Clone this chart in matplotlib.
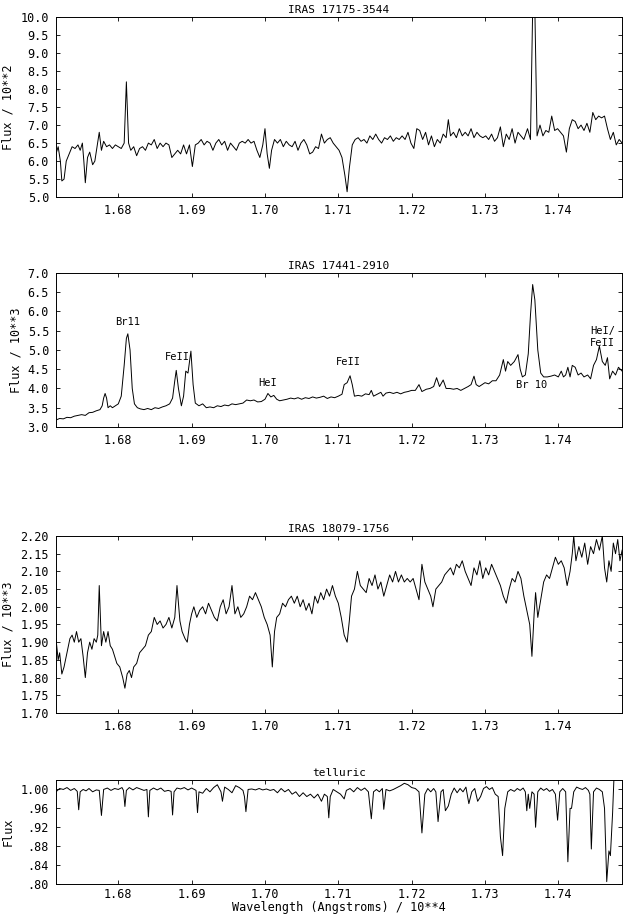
import matplotlib
matplotlib.use("Agg")
import matplotlib.pyplot as plt
from matplotlib.ticker import MultipleLocator, FuncFormatter

plt.rcParams['font.family'] = ['DejaVu Sans Mono', 'Liberation Mono']
plt.rcParams['font.size'] = 8.5

xticks = [1.68, 1.69, 1.70, 1.71, 1.72, 1.73, 1.74]
xlim = (1.6715, 1.7487)

titles = ["IRAS 17175-3544", "IRAS 17441-2910", "IRAS 18079-1756", "telluric"]
ylabels = ["Flux / 10**2", "Flux / 10**3", "Flux / 10**3", "Flux"]

spec1 = [(1.6715,6.2),(1.6718,6.4),(1.6721,6.0),(1.6723,5.45),(1.6726,5.5),(1.6729,6.0),(1.6733,6.2),(1.6737,6.4),
(1.6741,6.35),(1.6745,6.45),(1.6748,6.3),(1.6751,6.5),(1.6753,6.0),(1.6755,5.4),(1.6758,6.1),(1.6761,6.25),(1.6765,5.9),
(1.6768,6.0),(1.6771,6.4),(1.6774,6.8),(1.6777,6.3),(1.6780,6.55),(1.6784,6.4),(1.6788,6.45),(1.6792,6.35),(1.6796,6.45),
(1.6800,6.4),(1.6804,6.35),(1.6808,6.5),(1.6811,8.2),(1.6814,6.5),(1.6817,6.3),(1.6821,6.4),(1.6825,6.15),(1.6829,6.35),
(1.6833,6.4),(1.6837,6.3),(1.6841,6.5),(1.6845,6.45),(1.6849,6.6),(1.6853,6.35),(1.6857,6.5),(1.6861,6.4),(1.6865,6.5),
(1.6869,6.45),(1.6873,6.1),(1.6877,6.2),(1.6881,6.3),(1.6885,6.2),(1.6889,6.45),(1.6893,6.2),(1.6897,6.45),(1.6901,5.85),
(1.6905,6.45),(1.6909,6.5),(1.6913,6.6),(1.6917,6.45),(1.6921,6.55),(1.6925,6.5),(1.6929,6.3),(1.6933,6.5),(1.6937,6.6),
(1.6941,6.45),(1.6945,6.55),(1.6949,6.3),(1.6953,6.5),(1.6957,6.4),(1.6961,6.3),(1.6965,6.5),(1.6969,6.55),(1.6973,6.5),
(1.6977,6.6),(1.6981,6.5),(1.6985,6.55),(1.6989,6.3),(1.6993,6.1),(1.6997,6.45),(1.7000,6.9),(1.7003,6.2),(1.7006,5.8),
(1.7009,6.3),(1.7013,6.6),(1.7017,6.5),(1.7021,6.6),(1.7025,6.4),(1.7029,6.55),(1.7033,6.45),(1.7037,6.4),(1.7041,6.55),
(1.7045,6.3),(1.7049,6.5),(1.7053,6.6),(1.7057,6.45),(1.7061,6.2),(1.7065,6.25),(1.7069,6.4),(1.7073,6.35),(1.7077,6.75),
(1.7081,6.5),(1.7085,6.6),(1.7089,6.65),(1.7093,6.5),(1.7097,6.4),(1.7101,6.3),(1.7105,6.1),(1.7109,5.6),(1.7112,5.15),
(1.7115,5.8),(1.7119,6.45),(1.7123,6.6),(1.7127,6.65),(1.7131,6.55),(1.7135,6.6),(1.7139,6.5),(1.7143,6.7),(1.7147,6.6),
(1.7151,6.75),(1.7155,6.6),(1.7159,6.5),(1.7163,6.65),(1.7167,6.6),(1.7171,6.7),(1.7175,6.55),(1.7179,6.65),(1.7183,6.6),
(1.7187,6.7),(1.7191,6.6),(1.7195,6.8),(1.7199,6.5),(1.7203,6.35),(1.7207,6.9),(1.7211,6.85),(1.7215,6.6),(1.7219,6.8),
(1.7223,6.45),(1.7227,6.7),(1.7231,6.4),(1.7235,6.6),(1.7239,6.5),(1.7243,6.75),(1.7247,6.65),(1.7250,7.15),(1.7253,6.7),
(1.7257,6.8),(1.7261,6.65),(1.7265,6.9),(1.7269,6.7),(1.7273,6.8),(1.7277,6.7),(1.7281,6.9),(1.7285,6.65),(1.7289,6.8),
(1.7293,6.7),(1.7297,6.65),(1.7301,6.7),(1.7305,6.6),(1.7309,6.75),(1.7313,6.55),(1.7317,6.65),(1.7321,6.95),(1.7325,6.4),
(1.7329,6.75),(1.7333,6.6),(1.7337,6.9),(1.7341,6.5),(1.7345,6.8),(1.7349,6.7),(1.7353,6.6),(1.7358,6.9),(1.7362,6.6),
(1.7365,10.2),(1.7368,10.2),(1.7371,6.7),(1.7375,7.0),(1.7379,6.7),(1.7383,6.85),(1.7387,6.8),(1.7391,7.25),(1.7395,6.85),
(1.7399,6.9),(1.7403,6.8),(1.7407,6.7),(1.7411,6.25),(1.7415,6.9),(1.7419,7.15),(1.7423,7.1),(1.7427,6.9),(1.7431,7.0),
(1.7435,6.85),(1.7439,7.05),(1.7443,6.8),(1.7447,7.35),(1.7451,7.15),(1.7455,7.25),(1.7459,7.2),(1.7463,7.25),(1.7467,6.9),
(1.7471,6.6),(1.7475,6.8),(1.7479,6.45),(1.7483,6.6),(1.7487,6.5)]

spec2 = [(1.6715,3.18),(1.6720,3.22),(1.6725,3.21),(1.6730,3.25),(1.6735,3.24),(1.6740,3.28),(1.6745,3.3),(1.6750,3.32),
(1.6755,3.3),(1.6760,3.37),(1.6765,3.38),(1.6770,3.42),(1.6775,3.45),(1.6778,3.55),(1.6780,3.75),(1.6782,3.87),(1.6784,3.75),
(1.6786,3.5),(1.6789,3.55),(1.6792,3.5),(1.6796,3.55),(1.6800,3.6),(1.6804,3.8),(1.6808,4.6),(1.6811,5.3),(1.6813,5.42),
(1.6816,5.0),(1.6819,4.0),(1.6822,3.6),(1.6826,3.5),(1.6830,3.47),(1.6835,3.45),(1.6840,3.48),(1.6845,3.45),(1.6850,3.5),
(1.6855,3.48),(1.6860,3.52),(1.6865,3.55),(1.6870,3.6),(1.6874,3.75),(1.6877,4.2),(1.6879,4.47),(1.6882,4.0),(1.6886,3.55),
(1.6889,3.8),(1.6892,4.45),(1.6895,4.4),(1.6899,4.97),(1.6902,4.1),(1.6905,3.62),(1.6910,3.55),(1.6915,3.6),(1.6920,3.5),
(1.6925,3.52),(1.6930,3.5),(1.6935,3.55),(1.6940,3.53),(1.6945,3.57),(1.6950,3.55),(1.6955,3.6),(1.6960,3.58),(1.6965,3.6),
(1.6970,3.62),(1.6975,3.7),(1.6980,3.68),(1.6985,3.7),(1.6990,3.65),(1.6995,3.66),(1.7000,3.72),(1.7004,3.87),(1.7008,3.78),
(1.7012,3.82),(1.7016,3.72),(1.7020,3.68),(1.7025,3.7),(1.7030,3.72),(1.7035,3.75),(1.7040,3.73),(1.7045,3.76),(1.7050,3.72),
(1.7055,3.76),(1.7060,3.74),(1.7065,3.78),(1.7070,3.75),(1.7075,3.77),(1.7080,3.8),(1.7085,3.74),(1.7090,3.78),(1.7095,3.76),
(1.7100,3.8),(1.7105,3.85),(1.7108,4.1),(1.7112,4.15),(1.7116,4.33),(1.7119,4.1),(1.7122,3.8),(1.7127,3.82),(1.7132,3.8),
(1.7137,3.86),(1.7142,3.84),(1.7145,3.95),(1.7148,3.8),(1.7153,3.85),(1.7158,3.9),(1.7161,3.8),(1.7165,3.88),(1.7170,3.9),
(1.7175,3.87),(1.7180,3.9),(1.7185,3.86),(1.7190,3.9),(1.7195,3.92),(1.7200,3.95),(1.7205,3.95),(1.7210,4.1),(1.7214,3.92),
(1.7220,3.98),(1.7225,4.0),(1.7230,4.05),(1.7234,4.28),(1.7238,4.05),(1.7243,4.22),(1.7247,4.0),(1.7252,4.0),(1.7257,3.98),
(1.7262,4.0),(1.7267,3.95),(1.7272,4.0),(1.7277,4.05),(1.7281,4.1),(1.7285,4.32),(1.7288,4.1),(1.7292,4.05),(1.7296,4.1),
(1.7300,4.15),(1.7305,4.12),(1.7310,4.2),(1.7315,4.2),(1.7320,4.35),(1.7325,4.75),(1.7328,4.45),(1.7331,4.7),(1.7335,4.6),
(1.7340,4.7),(1.7345,4.88),(1.7348,4.5),(1.7351,4.3),(1.7355,4.35),(1.7359,4.9),(1.7362,5.9),(1.7365,6.7),(1.7368,6.3),
(1.7372,5.0),(1.7376,4.4),(1.7380,4.3),(1.7385,4.3),(1.7390,4.32),(1.7395,4.35),(1.7400,4.3),(1.7404,4.45),(1.7407,4.3),
(1.7410,4.35),(1.7413,4.55),(1.7416,4.3),(1.7419,4.6),(1.7423,4.55),(1.7427,4.35),(1.7431,4.4),(1.7435,4.3),(1.7440,4.35),
(1.7444,4.25),(1.7448,4.6),(1.7452,4.75),(1.7456,5.1),(1.7460,4.7),(1.7464,4.6),(1.7467,4.8),(1.7470,4.25),(1.7474,4.45),
(1.7478,4.35),(1.7482,4.55),(1.7487,4.45)]

spec3 = [(1.6715,1.91),(1.6718,1.85),(1.6720,1.87),(1.6723,1.81),(1.6726,1.83),(1.6730,1.87),(1.6734,1.91),(1.6737,1.92),
(1.6740,1.90),(1.6743,1.93),(1.6746,1.90),(1.6749,1.91),(1.6752,1.86),(1.6755,1.80),(1.6758,1.87),(1.6761,1.90),(1.6764,1.88),
(1.6767,1.91),(1.6770,1.90),(1.6772,1.92),(1.6774,2.06),(1.6777,1.89),(1.6780,1.93),(1.6783,1.90),(1.6786,1.93),(1.6789,1.89),
(1.6792,1.88),(1.6795,1.86),(1.6798,1.84),(1.6802,1.83),(1.6806,1.80),(1.6809,1.77),(1.6812,1.81),(1.6815,1.82),(1.6818,1.80),
(1.6821,1.83),(1.6825,1.84),(1.6829,1.87),(1.6833,1.88),(1.6837,1.89),(1.6841,1.92),(1.6845,1.93),(1.6849,1.97),(1.6853,1.95),
(1.6857,1.96),(1.6861,1.94),(1.6865,1.95),(1.6869,1.97),(1.6873,1.94),(1.6877,1.97),(1.6880,2.06),(1.6884,1.96),(1.6887,1.93),
(1.6891,1.91),(1.6894,1.90),(1.6897,1.95),(1.6900,1.98),(1.6903,2.00),(1.6907,1.97),(1.6911,1.99),(1.6915,2.00),(1.6919,1.98),
(1.6923,2.01),(1.6927,1.99),(1.6931,1.97),(1.6935,1.96),(1.6939,2.00),(1.6943,2.02),(1.6947,1.98),(1.6951,2.00),(1.6955,2.06),
(1.6959,1.98),(1.6963,2.00),(1.6967,1.97),(1.6971,1.98),(1.6975,2.00),(1.6979,2.03),(1.6983,2.02),(1.6987,2.04),(1.6991,2.02),
(1.6995,2.00),(1.6999,1.97),(1.7003,1.95),(1.7007,1.92),(1.7010,1.83),(1.7013,1.93),(1.7016,1.97),(1.7020,1.98),(1.7024,2.01),
(1.7028,2.00),(1.7032,2.02),(1.7036,2.03),(1.7040,2.01),(1.7044,2.03),(1.7048,2.00),(1.7052,2.02),(1.7056,1.99),(1.7060,2.01),
(1.7064,1.98),(1.7068,2.03),(1.7072,2.01),(1.7076,2.04),(1.7080,2.02),(1.7084,2.05),(1.7088,2.03),(1.7092,2.06),(1.7096,2.03),
(1.7100,2.01),(1.7104,1.97),(1.7108,1.92),(1.7112,1.90),(1.7115,1.96),(1.7118,2.03),(1.7122,2.05),(1.7126,2.10),(1.7130,2.06),
(1.7134,2.05),(1.7138,2.04),(1.7142,2.08),(1.7146,2.06),(1.7150,2.09),(1.7154,2.05),(1.7158,2.07),(1.7162,2.03),(1.7166,2.06),
(1.7170,2.09),(1.7174,2.07),(1.7178,2.10),(1.7182,2.07),(1.7186,2.09),(1.7190,2.07),(1.7194,2.08),(1.7198,2.07),(1.7202,2.08),
(1.7206,2.05),(1.7210,2.02),(1.7214,2.12),(1.7218,2.07),(1.7222,2.05),(1.7226,2.03),(1.7229,2.00),(1.7233,2.05),(1.7237,2.06),
(1.7241,2.07),(1.7245,2.09),(1.7249,2.10),(1.7253,2.11),(1.7257,2.09),(1.7261,2.12),(1.7265,2.11),(1.7269,2.13),(1.7273,2.10),
(1.7277,2.08),(1.7281,2.06),(1.7285,2.11),(1.7289,2.09),(1.7293,2.13),(1.7297,2.08),(1.7301,2.11),(1.7305,2.09),(1.7309,2.12),
(1.7313,2.10),(1.7317,2.08),(1.7321,2.06),(1.7325,2.03),(1.7329,2.01),(1.7333,2.05),(1.7337,2.08),(1.7341,2.07),(1.7345,2.10),
(1.7349,2.08),(1.7353,2.03),(1.7357,1.99),(1.7361,1.95),(1.7364,1.86),(1.7367,1.98),(1.7369,2.04),(1.7372,1.97),(1.7376,2.02),
(1.7380,2.07),(1.7384,2.09),(1.7388,2.08),(1.7392,2.11),(1.7396,2.14),(1.7400,2.12),(1.7404,2.13),(1.7408,2.11),(1.7412,2.06),
(1.7416,2.10),(1.7419,2.15),(1.7421,2.20),(1.7424,2.13),(1.7428,2.17),(1.7432,2.14),(1.7436,2.18),(1.7440,2.12),(1.7444,2.17),
(1.7448,2.15),(1.7452,2.19),(1.7456,2.16),(1.7460,2.20),(1.7463,2.11),(1.7466,2.07),(1.7469,2.13),(1.7472,2.10),(1.7475,2.18),
(1.7478,2.15),(1.7481,2.19),(1.7484,2.13),(1.7487,2.16)]

spec4 = [(1.6715,0.995),(1.6720,1.002),(1.6725,1.000),(1.6730,1.004),(1.6735,0.998),(1.6740,1.002),(1.6744,0.996),(1.6746,0.957),
(1.6748,0.995),(1.6752,1.000),(1.6756,0.997),(1.6760,1.002),(1.6765,0.995),(1.6770,0.999),(1.6774,0.998),(1.6777,0.945),
(1.6780,1.000),(1.6785,1.003),(1.6790,0.998),(1.6795,1.002),(1.6800,1.000),(1.6805,1.004),(1.6807,0.998),(1.6809,0.964),
(1.6811,0.998),(1.6815,1.004),(1.6820,0.999),(1.6825,1.004),(1.6830,1.001),(1.6835,0.998),(1.6839,1.000),(1.6841,0.942),
(1.6843,0.998),(1.6848,1.003),(1.6853,0.999),(1.6858,1.003),(1.6863,0.996),(1.6868,0.998),(1.6872,0.996),(1.6874,0.946),
(1.6876,0.995),(1.6880,1.003),(1.6885,1.001),(1.6890,1.004),(1.6895,0.999),(1.6900,1.003),(1.6906,0.998),(1.6908,0.951),
(1.6910,0.995),(1.6915,0.992),(1.6920,1.002),(1.6925,0.995),(1.6930,1.004),(1.6935,1.010),(1.6940,0.995),(1.6942,0.975),
(1.6945,1.005),(1.6950,1.000),(1.6955,0.993),(1.6960,1.008),(1.6965,1.004),(1.6970,0.998),(1.6972,0.985),(1.6974,0.953),
(1.6977,1.000),(1.6982,1.001),(1.6987,0.999),(1.6992,1.002),(1.6997,0.999),(1.7002,1.001),(1.7007,0.998),(1.7012,1.000),
(1.7017,0.993),(1.7022,1.002),(1.7027,0.995),(1.7032,1.000),(1.7037,0.990),(1.7042,0.995),(1.7047,0.985),(1.7052,0.993),
(1.7057,0.985),(1.7062,0.990),(1.7067,0.982),(1.7072,0.990),(1.7077,0.975),(1.7081,0.990),(1.7085,0.985),(1.7087,0.940),
(1.7089,0.985),(1.7093,1.000),(1.7098,0.995),(1.7103,0.990),(1.7108,0.980),(1.7111,0.998),(1.7116,1.002),(1.7121,0.995),
(1.7126,1.004),(1.7131,0.998),(1.7136,1.003),(1.7141,0.995),(1.7145,0.938),(1.7148,0.995),(1.7152,1.000),(1.7156,0.995),
(1.7160,1.002),(1.7162,0.958),(1.7165,1.000),(1.7170,0.997),(1.7175,1.000),(1.7180,1.004),(1.7185,1.008),(1.7190,1.013),
(1.7195,1.010),(1.7200,1.004),(1.7205,1.002),(1.7210,0.995),(1.7214,0.908),(1.7218,0.990),(1.7222,1.002),(1.7226,0.995),
(1.7230,1.002),(1.7233,0.995),(1.7236,0.932),(1.7240,0.995),(1.7243,1.000),(1.7246,0.955),(1.7250,0.965),(1.7254,0.990),
(1.7258,1.003),(1.7262,0.993),(1.7266,1.002),(1.7270,0.995),(1.7274,1.005),(1.7278,0.970),(1.7282,0.995),(1.7286,1.002),
(1.7290,0.975),(1.7294,0.985),(1.7298,1.002),(1.7302,1.006),(1.7306,1.000),(1.7310,1.004),(1.7314,0.990),(1.7318,0.985),
(1.7321,0.900),(1.7324,0.860),(1.7327,0.960),(1.7331,0.995),(1.7335,1.000),(1.7340,0.996),(1.7344,1.002),(1.7348,0.998),
(1.7352,1.003),(1.7355,0.995),(1.7357,0.955),(1.7359,0.990),(1.7361,0.960),(1.7364,0.995),(1.7367,0.990),(1.7369,0.920),
(1.7372,0.995),(1.7376,1.003),(1.7380,0.998),(1.7384,1.002),(1.7388,0.996),(1.7392,1.000),(1.7396,0.990),(1.7399,0.935),
(1.7402,0.995),(1.7406,1.002),(1.7410,0.995),(1.7413,0.847),(1.7416,0.960),(1.7418,0.960),(1.7421,0.995),(1.7425,1.005),
(1.7429,1.002),(1.7433,1.000),(1.7437,1.004),(1.7441,0.998),(1.7443,0.990),(1.7445,0.874),(1.7448,0.995),(1.7452,1.003),
(1.7456,1.000),(1.7460,0.995),(1.7463,0.960),(1.7466,0.805),(1.7469,0.870),(1.7471,0.860),(1.7474,0.950),(1.7476,1.030)]

spectra = [spec1, spec2, spec3, spec4]
ylims = [(5.0, 10.0), (3.0, 7.0), (1.70, 2.20), (0.80, 1.02)]
ysteps = [0.5, 0.5, 0.05, 0.04]

labels2 = [("Br11", 1.6813, 5.6), ("FeII", 1.6880, 4.7), ("HeI", 1.7003, 4.0),
           ("FeII", 1.7114, 4.55), ("Br 10", 1.7363, 3.95), ("HeI/\nFeII", 1.7460, 5.05)]

fig = plt.figure(figsize=(6.24, 9.17), dpi=100)
boxes = [(0.785, 0.9815), (0.5344, 0.7023), (0.2225, 0.4155), (0.036, 0.1494)]
left, right = 0.0897, 0.997
for i, (b, t) in enumerate(boxes):
    ax = fig.add_axes([left, b, right - left, t - b])
    xs = [p[0] for p in spectra[i]]
    ys = [p[1] for p in spectra[i]]
    ax.plot(xs, ys, color='black', lw=0.7)
    ax.set_xlim(*xlim)
    ax.set_ylim(*ylims[i])
    ax.set_xticks(xticks)
    ax.xaxis.set_major_formatter(FuncFormatter(lambda v, p: "%.2f" % v))
    ax.yaxis.set_major_locator(MultipleLocator(ysteps[i]))
    if i in (0, 1):
        ax.yaxis.set_major_formatter(FuncFormatter(lambda v, p: "%.1f" % v))
    elif i == 2:
        ax.yaxis.set_major_formatter(FuncFormatter(lambda v, p: "%.2f" % v))
    else:
        ax.yaxis.set_major_formatter(FuncFormatter(
            lambda v, p: ("%.2f" % v) if v >= 0.995 else ("%.2f" % v)[1:]))
    ax.tick_params(direction='in', top=True, right=True, length=3, width=0.6,
                   labelsize=8.5, pad=5)
    if i == 3:
        ax.tick_params(axis='x', pad=3)
    for s in ax.spines.values():
        s.set_linewidth(0.7)
    ax.set_title(titles[i], fontsize=8, pad=3)
    ax.set_ylabel(ylabels[i], fontsize=8.5)
    if i == 1:
        for txt, x, y in labels2:
            ax.text(x, y, txt, ha='center', va='bottom', fontsize=7.5, linespacing=1.3)
    if i == 3:
        ax.set_xlabel("Wavelength (Angstroms) / 10**4", fontsize=8.5, labelpad=0)

fig.savefig("out.png", dpi=100)
